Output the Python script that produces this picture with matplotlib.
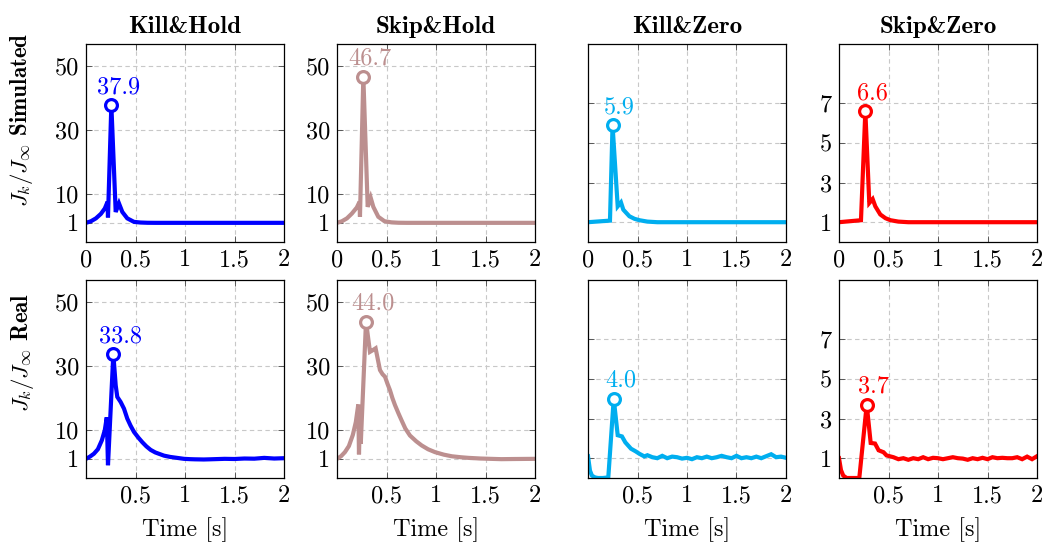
import matplotlib
matplotlib.use("Agg")
import matplotlib.pyplot as plt

plt.rcParams['font.family'] = 'cmr10'
plt.rcParams['mathtext.fontset'] = 'cm'
plt.rcParams['axes.formatter.use_mathtext'] = True

# ---------------- data ----------------
methods = ["Kill&Hold", "Skip&Hold", "Kill&Zero", "Skip&Zero"]
colors = ["#0000FF", "#BC8F8F", "#00AEEF", "#FF0000"]
row_names = ["Simulated", "Real"]

sim_kh_t = [0.0, 0.05, 0.10, 0.15, 0.19, 0.218, 0.222, 0.256, 0.30, 0.333, 0.367, 0.417, 0.485, 0.55, 0.62, 0.70, 2.0]
sim_kh_v = [1.0, 1.5, 2.4, 3.8, 5.5, 7.6, 2.7, 37.9, 4.4, 7.1, 4.4, 2.4, 1.3, 1.1, 1.02, 1.0, 1.0]

sim_sh_t = [0.0, 0.05, 0.10, 0.15, 0.20, 0.228, 0.232, 0.266, 0.31, 0.34, 0.367, 0.417, 0.48, 0.55, 0.62, 0.70, 2.0]
sim_sh_v = [1.0, 1.5, 2.4, 3.9, 5.8, 7.6, 2.9, 46.7, 6.0, 8.9, 6.0, 2.9, 1.5, 1.15, 1.03, 1.0, 1.0]

sim_kz_t = [0.0, 0.222, 0.248, 0.30, 0.333, 0.357, 0.418, 0.47, 0.52, 0.60, 0.70, 2.0]
sim_kz_v = [1.0, 1.08, 5.9, 1.8, 2.0, 1.63, 1.3, 1.17, 1.1, 1.03, 1.0, 1.0]

sim_sz_t = [0.0, 0.222, 0.266, 0.306, 0.34, 0.367, 0.417, 0.47, 0.52, 0.60, 0.70, 2.0]
sim_sz_v = [1.0, 1.1, 6.6, 1.97, 2.17, 1.8, 1.39, 1.2, 1.1, 1.03, 1.0, 1.0]

real_kh_t = [0.0, 0.04, 0.08, 0.12, 0.16, 0.19, 0.21, 0.222, 0.276, 0.30, 0.316, 0.35, 0.384,
             0.417, 0.45, 0.485, 0.53, 0.569, 0.61, 0.653, 0.70, 0.788, 0.85, 0.92, 0.99,
             1.05, 1.10, 1.19, 1.25, 1.30, 1.40, 1.50, 1.60, 1.70, 1.80, 1.90, 2.0]
real_kh_v = [1.0, 1.7, 2.6, 4.0, 6.8, 10.0, 14.0, -1.0, 33.8, 24.0, 20.4, 18.8, 16.7,
             13.6, 11.4, 9.4, 7.6, 6.2, 4.9, 3.8, 3.0, 2.0, 1.6, 1.3, 1.0,
             0.9, 0.85, 0.8, 0.85, 0.9, 1.0, 0.95, 1.1, 1.05, 1.3, 1.1, 1.2]

real_sh_t = [0.0, 0.04, 0.08, 0.12, 0.16, 0.19, 0.215, 0.222, 0.232, 0.24, 0.293, 0.333, 0.36,
             0.39, 0.434, 0.46, 0.485, 0.51, 0.535, 0.56, 0.586, 0.62, 0.653, 0.69, 0.737,
             0.80, 0.855, 0.92, 0.99, 1.08, 1.16, 1.25, 1.33, 1.45, 1.55, 1.66, 1.80, 2.0]
real_sh_v = [1.0, 1.8, 3.1, 5.0, 8.5, 12.5, 18.0, 2.4, 14.0, 5.7, 44.0, 34.5, 35.0,
             35.6, 28.8, 27.5, 26.7, 24.5, 22.5, 20.0, 17.8, 15.3, 13.0, 10.5, 8.3,
             6.5, 5.2, 4.0, 3.1, 2.3, 1.8, 1.5, 1.3, 1.1, 1.0, 0.9, 0.95, 1.0]

real_kz_t = [0.0, 0.02, 0.04, 0.07, 0.10, 0.15, 0.205, 0.26, 0.30, 0.343, 0.377, 0.434, 0.48,
             0.52, 0.569, 0.60, 0.65, 0.70, 0.75, 0.80, 0.85, 0.90, 0.95, 1.00, 1.05, 1.10,
             1.15, 1.20, 1.25, 1.30, 1.35, 1.40, 1.45, 1.50, 1.55, 1.60, 1.65, 1.70, 1.75,
             1.80, 1.85, 1.90, 1.95, 2.0]
real_kz_v = [1.1, 0.37, 0.12, 0.03, 0.0, 0.0, 0.03, 4.0, 2.16, 2.1, 1.8, 1.48, 1.35,
             1.22, 1.09, 1.15, 1.05, 1.0, 1.12, 1.0, 1.08, 1.05, 0.98, 1.02, 0.95, 1.05,
             1.0, 1.08, 1.0, 1.05, 1.12, 1.05, 1.0, 1.12, 1.0, 1.05, 1.0, 1.08, 1.0,
             1.1, 1.2, 1.05, 1.08, 1.02]

real_sz_t = [0.0, 0.02, 0.043, 0.077, 0.15, 0.205, 0.28, 0.32, 0.364, 0.40, 0.45, 0.48, 0.55,
             0.60, 0.65, 0.70, 0.75, 0.80, 0.85, 0.90, 0.95, 1.00, 1.05, 1.10, 1.15, 1.20,
             1.25, 1.30, 1.35, 1.40, 1.45, 1.50, 1.55, 1.60, 1.65, 1.70, 1.75, 1.80, 1.85,
             1.90, 1.95, 2.0]
real_sz_v = [1.0, 0.4, 0.12, 0.0, 0.0, 0.0, 3.7, 1.77, 1.74, 1.4, 1.3, 1.14, 1.05,
             0.95, 1.0, 0.92, 1.0, 0.95, 1.05, 0.95, 1.02, 1.0, 0.95, 1.0, 1.05, 1.0,
             0.98, 0.92, 1.0, 0.95, 1.02, 0.95, 1.05, 1.0, 1.02, 1.0, 1.0, 1.05, 0.95,
             1.08, 0.95, 1.1]

peak_t = [[0.256, 0.266, 0.248, 0.266], [0.276, 0.293, 0.26, 0.28]]
peak_v = [[37.9, 46.7, 5.9, 6.6], [33.8, 44.0, 4.0, 3.7]]
peak_labels = [["37.9", "46.7", "5.9", "6.6"], ["33.8", "44.0", "4.0", "3.7"]]

series = [[(sim_kh_t, sim_kh_v), (sim_sh_t, sim_sh_v), (sim_kz_t, sim_kz_v), (sim_sz_t, sim_sz_v)],
          [(real_kh_t, real_kh_v), (real_sh_t, real_sh_v), (real_kz_t, real_kz_v), (real_sz_t, real_sz_v)]]

hold_yticks = [1, 10, 30, 50]
zero_yticks = [1, 3, 5, 7]
top_xticks = [0, 0.5, 1, 1.5, 2]
top_xlabels = ["0", "0.5", "1", "1.5", "2"]
bot_xticks = [0.5, 1, 1.5, 2]
bot_xlabels = ["0.5", "1", "1.5", "2"]

# ---------------- layout ----------------
W, H = 1043, 543
fig = plt.figure(figsize=(W / 100, H / 100), dpi=100)
col_left = [86, 337, 588, 839]
row_top = [44, 280]
size = 198
FS = 17.5
grid_kw = dict(color='#c8c8c8', lw=0.8, linestyle=(0, (4, 3)), zorder=0.5)

for r in range(2):
    for c in range(4):
        ax = fig.add_axes([col_left[c] / W, 1 - (row_top[r] + size) / H, size / W, size / H])
        t, v = series[r][c]
        ax.plot(t, v, color=colors[c], lw=3.0, solid_joinstyle='miter', zorder=3)
        ax.plot([peak_t[r][c]], [peak_v[r][c]], 'o', ms=8.5, mfc='white', mec=colors[c],
                mew=2.3, zorder=4)
        ax.annotate(peak_labels[r][c], (peak_t[r][c], peak_v[r][c]), xytext=(5, 5),
                    textcoords='offset points', ha='center', va='bottom',
                    color=colors[c], fontsize=FS, zorder=5)
        ax.set_xlim(0, 2)
        yt = hold_yticks if c < 2 else zero_yticks
        xt = top_xticks if r == 0 else bot_xticks
        if c < 2:
            ax.set_ylim(-5, 57)
        else:
            ax.set_ylim(0, 10)
        ax.set_yticks(yt)
        if c == 2:
            ax.set_yticklabels(["" for y in yt])
        else:
            ax.set_yticklabels([str(y) for y in yt])
        ax.set_xticks(xt)
        if r == 0:
            ax.set_xticklabels(top_xlabels)
            ax.set_title(methods[c], fontfamily='cmb10', fontsize=18, pad=8)
        else:
            ax.set_xticklabels(bot_xlabels)
            ax.set_xlabel("Time [s]", fontsize=FS, labelpad=7)
        # dashed grid at the tick positions
        for y in yt:
            ax.axhline(y, **grid_kw)
        for x in xt:
            if 0 < x < 2:
                ax.axvline(x, **grid_kw)
        ax.tick_params(direction='in', length=4, width=0.6, color='#444444',
                       top=True, right=True, labelsize=FS, pad=5)
        for s in ax.spines.values():
            s.set_linewidth(0.9)
            s.set_zorder(6)

fig.text(22 / W, 1 - 120 / H, r'$J_k/J_\infty$ $\mathbf{Simulated}$', rotation=90,
         ha='center', va='center', fontsize=16.5)
fig.text(22 / W, 1 - 352 / H, r'$J_k/J_\infty$ $\mathbf{Real}$', rotation=90,
         ha='center', va='center', fontsize=16.5)

fig.savefig("out.png", dpi=100)
